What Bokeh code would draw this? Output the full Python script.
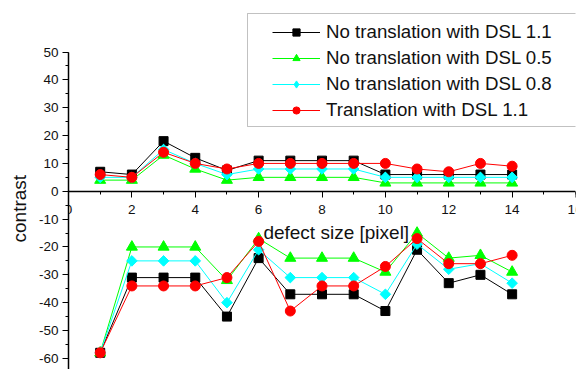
import numpy as np
from bokeh.plotting import figure
from bokeh.models import (Range1d, SingleIntervalTicker, NumeralTickFormatter,
                          Legend, LegendItem, BoxAnnotation, Label, Title)
from bokeh.embed import file_html
from bokeh.resources import INLINE

# ---- data ----
defect_size = [1, 2, 3, 4, 5, 6, 7, 8, 9, 10, 11, 12, 13, 14]

# upper (positive contrast) branch
no_trans_11_pos = [7, 6, 18, 12, 7.5, 11, 11, 11, 11, 6, 6, 6, 6, 6]
no_trans_05_pos = [4, 4, 13, 8, 4, 5, 5, 5, 5, 3, 3, 3, 3, 3]
no_trans_08_pos = [5, 5, 15, 10, 6, 8, 8, 8, 8, 5, 5, 5, 5, 5]
trans_11_pos = [6, 5, 14, 10, 8, 10, 10, 10, 10, 10, 8, 7, 10, 9]

# lower (negative contrast) branch
no_trans_11_neg = [-58, -31, -31, -31, -45, -24, -37, -37, -37, -43, -21, -33, -30, -37]
no_trans_05_neg = [-58, -20, -20, -20, -32, -17, -24, -24, -24, -29, -15, -24, -23, -29]
no_trans_08_neg = [-58, -25, -25, -25, -40, -21, -31, -31, -31, -37, -19, -28, -26, -33]
trans_11_neg = [-58, -34, -34, -34, -31, -18, -43, -34, -34, -27, -17, -26, -26, -23]

labels = ["No translation with DSL 1.1", "No translation with DSL 0.5",
          "No translation with DSL 0.8", "Translation with DSL 1.1"]
x_title = "defect size [pixel]"
y_title = "contrast"

FONT = "Liberation Sans"
TXT = "#111111"

y0, y1 = -64.0, 68.5
p = figure(width=582, height=369, output_backend="svg", toolbar_location=None,
           x_range=Range1d(0, 16), y_range=Range1d(y0, y1),
           min_border_left=68, min_border_right=7, min_border_top=0,
           min_border_bottom=0)
p.outline_line_color = None
p.xgrid.visible = False
p.ygrid.visible = False

# x axis crossing at y = 0
xa = p.xaxis[0]
xa.fixed_location = 0
xa.ticker = SingleIntervalTicker(interval=2, num_minor_ticks=2)
xa.formatter = NumeralTickFormatter(format="0")

ya = p.yaxis[0]
ya.bounds = (y0, 50)
ya.ticker = SingleIntervalTicker(interval=10, num_minor_ticks=2)
ya.formatter = NumeralTickFormatter(format="0")

for ax in (xa, ya):
    ax.axis_line_width = 1.5
    ax.axis_line_color = "black"
    ax.major_tick_line_color = "black"
    ax.minor_tick_line_color = "black"
    ax.major_tick_out = 6
    ax.major_tick_in = 0
    ax.minor_tick_out = 3
    ax.minor_tick_in = 0
    ax.major_label_text_font = FONT
    ax.major_label_text_font_size = "13.5px"
    ax.major_label_text_color = TXT
xa.major_label_standoff = 8
ya.major_label_standoff = 4

# axis titles
p.add_layout(Label(x=8.45, y=-14.8, text=x_title, text_align="center",
                   text_baseline="middle", text_font=FONT,
                   text_font_size="19px", text_color=TXT))
p.add_layout(Title(text=y_title, align="left", offset=127, standoff=12,
                   text_font=FONT, text_font_size="19px",
                   text_font_style="normal", text_color=TXT), "left")

series = [
    (no_trans_11_pos, no_trans_11_neg, "black", "square", 9, 0.0),
    (no_trans_05_pos, no_trans_05_neg, "#00ff00", "triangle", 11, 0.0),
    (no_trans_08_pos, no_trans_08_neg, "#00ffff", "square", 7.5, np.pi / 4),
    (trans_11_pos, trans_11_neg, "#ff0000", "circle", 10, 0.0),
]

items = []
for (pos, neg, col, mk, sz, ang), lab in zip(series, labels):
    lu = p.line(defect_size, pos, line_color=col, line_width=1)
    ll = p.line(defect_size, neg, line_color=col, line_width=1)
    leg = None
    if ang:
        # plain diamond underneath the rotated square (gives the legend glyph)
        leg = p.scatter(defect_size, pos, marker="diamond", size=10,
                        fill_color=col, line_color=col)
    su = p.scatter(defect_size, pos, marker=mk, size=sz, angle=ang,
                   fill_color=col, line_color=col)
    sl = p.scatter(defect_size, neg, marker=mk, size=sz, angle=ang,
                   fill_color=col, line_color=col)
    items.append(LegendItem(label=lab, renderers=[lu, leg if leg is not None else su]))

legend = Legend(items=items, location="top_right", margin=21, padding=0,
                spacing=4, glyph_width=48, glyph_height=18, label_height=22,
                label_width=228, label_standoff=6,
                label_text_font=FONT, label_text_font_size="18.7px",
                label_text_color=TXT,
                border_line_color=None, background_fill_alpha=0)
p.add_layout(legend)

box = BoxAnnotation(left=247, right=578, top=13, bottom=126,
                    left_units="canvas", right_units="canvas",
                    top_units="canvas", bottom_units="canvas",
                    fill_alpha=0, line_color="#333333", line_width=1)
p.add_layout(box)

open("out.html", "w").write(file_html(p, INLINE))
